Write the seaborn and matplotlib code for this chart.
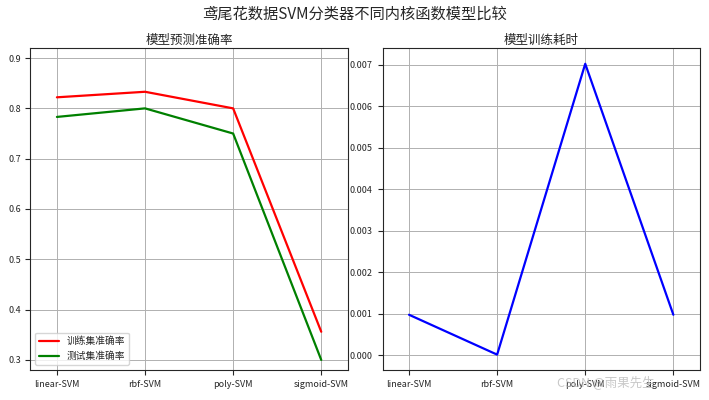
import matplotlib
matplotlib.use("Agg")
import matplotlib.pyplot as plt
import seaborn as sns

models = ["linear-SVM", "rbf-SVM", "poly-SVM", "sigmoid-SVM"]
train_acc = [0.822, 0.833, 0.800, 0.356]
test_acc = [0.783, 0.800, 0.750, 0.300]
train_time = [0.00098, 0.00002, 0.00702, 0.00098]

sns.set_style("ticks")
plt.rcParams['font.family'] = ['Noto Sans CJK SC', 'DejaVu Sans']
plt.rcParams['axes.unicode_minus'] = False

fig, (ax1, ax2) = plt.subplots(1, 2, figsize=(7.09, 4), dpi=100)
fig.subplots_adjust(left=0.043, right=0.987, top=0.88, bottom=0.075, wspace=0.11)

sns.lineplot(x=models, y=train_acc, ax=ax1, color="red", lw=1.6, label="训练集准确率", sort=False)
sns.lineplot(x=models, y=test_acc, ax=ax1, color="green", lw=1.6, label="测试集准确率", sort=False)
ax1.set_ylim(0.28, 0.92)
ax1.set_title("模型预测准确率", fontsize=9, pad=3)
ax1.legend(loc="lower left", fontsize=7)

sns.lineplot(x=models, y=train_time, ax=ax2, color="blue", lw=1.6, sort=False)
ax2.set_ylim(-0.00035, 0.0074)
ax2.set_title("模型训练耗时", fontsize=9, pad=3)

for ax in (ax1, ax2):
    ax.set_xlim(-0.3, 3.3)
    ax.grid(True, color="#b0b0b0", lw=0.7)
    ax.tick_params(labelsize=6.5)
    ax.set_xlabel("")
    ax.set_ylabel("")

fig.suptitle("鸢尾花数据SVM分类器不同内核函数模型比较", fontsize=11, y=0.985)
fig.text(0.785, 0.035, "CSDN @雨果先生", color="#bbbbbb", fontsize=9, alpha=0.8, zorder=0)
fig.savefig("out.png")
